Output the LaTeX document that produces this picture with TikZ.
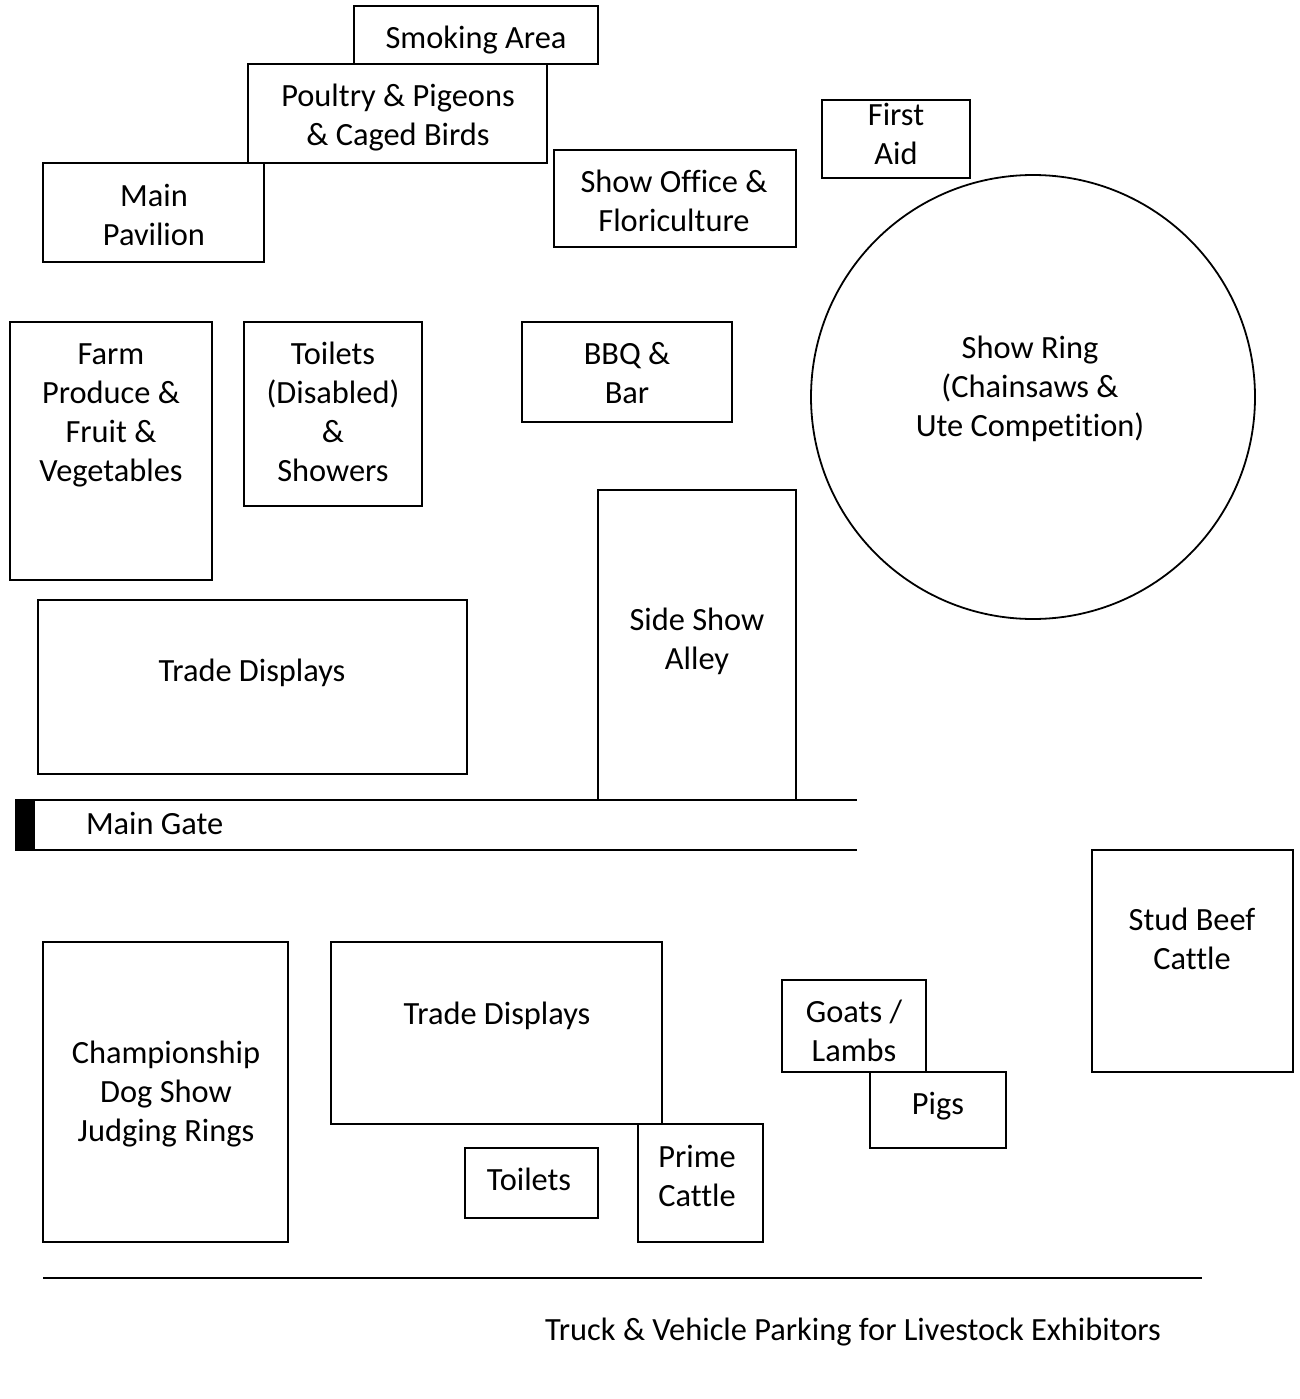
\documentclass[tikz,border=0pt]{standalone}
\usepackage{fontspec}
\setmainfont{Carlito}[Ligatures=NoCommon]
\begin{document}
\begin{tikzpicture}[x=1pt,y=-1pt,
  every node/.style={outer sep=0pt},
  box/.style={draw=black,line width=1.8pt,inner sep=0pt,anchor=north west},
  lbl/.style={align=center,inner sep=0pt,font=\fontsize{32.4}{39}\selectfont},
  edge/.style={line width=1.8pt}]
\useasboundingbox (0,0) rectangle (1300,1399);
% boxes
\node[box,minimum width=244pt,minimum height=58pt] (smokebox) at (354,6) {};
\node[box,minimum width=299pt,minimum height=99pt] (poultrybox) at (248,64) {};
\node[box,minimum width=221pt,minimum height=99pt] (pavbox) at (43,163) {};
\node[box,minimum width=242pt,minimum height=97pt] (officebox) at (554,150) {};
\node[box,minimum width=148pt,minimum height=78pt] (aidbox) at (822,100) {};
\node[draw=black,line width=1.8pt,circle,minimum size=444pt,inner sep=0pt] (ring) at (1033,397) {};
\node[box,minimum width=202pt,minimum height=258pt] (farmbox) at (10,322) {};
\node[box,minimum width=178pt,minimum height=184pt] (toildisbox) at (244,322) {};
\node[box,minimum width=210pt,minimum height=100pt] (bbqbox) at (522,322) {};
\node[box,minimum width=198pt,minimum height=310pt] (sidebox) at (598,490) {};
\node[box,minimum width=429pt,minimum height=174pt] (trade1box) at (38,600) {};
\node[box,minimum width=201pt,minimum height=222pt] (studbox) at (1092,850) {};
\node[box,minimum width=245pt,minimum height=300pt] (dogbox) at (43,942) {};
\node[box,minimum width=331pt,minimum height=182pt] (trade2box) at (331,942) {};
\node[box,minimum width=144pt,minimum height=92pt] (goatbox) at (782,980) {};
\node[box,minimum width=136pt,minimum height=76pt] (pigbox) at (870,1072) {};
\node[box,minimum width=133pt,minimum height=70pt] (toilbox) at (465,1148) {};
\node[box,minimum width=125pt,minimum height=118pt] (primebox) at (638,1124) {};
% main gate
\coordinate (gateTL) at (15,800);
\coordinate (gateTR) at (857,800);
\coordinate (gateBL) at (15,850);
\coordinate (gateBR) at (857,850);
\draw[edge] (gateTL) -- (gateTR);
\draw[edge] (gateBL) -- (gateBR);
\node[fill=black,minimum width=20pt,minimum height=52pt,inner sep=0pt,anchor=north west] (gatepost) at (15,799) {};
% parking line
\coordinate (parkL) at (43,1278);
\coordinate (parkR) at (1202,1278);
\draw[edge] (parkL) -- (parkR);
% labels
\node[lbl] (smoke) at (476,41) {\strut Smoking Area};
\node[lbl] (poultry) at (398,118.5) {\strut Poultry \& Pigeons\\\strut \& Caged Birds};
\node[lbl] (pav) at (154,218.5) {\strut Main\\\strut Pavilion};
\node[lbl] (office) at (674,204.5) {\strut Show Office \&\\\strut Floriculture};
\node[lbl] (aid) at (896,137.5) {\strut First\\\strut Aid};
\node[lbl] (ringlbl) at (1030,390) {\strut Show Ring\\\strut (Chainsaws \&\\\strut Ute Competition)};
\node[lbl] (farm) at (111,415.5) {\strut Farm\\\strut Produce \&\\\strut Fruit \&\\\strut Vegetables};
\node[lbl] (toildis) at (333,415.5) {\strut Toilets\\\strut (Disabled)\\\strut \&\\\strut Showers};
\node[lbl] (bbq) at (627,376.5) {\strut BBQ \&\\\strut Bar};
\node[lbl] (side) at (697,642.5) {\strut Side Show\\\strut Alley};
\node[lbl] (trade1) at (252,674) {\strut Trade Displays};
\node[lbl,anchor=west] (gate) at (86,827) {\strut Main Gate};
\node[lbl] (stud) at (1192,942.5) {\strut Stud Beef\\\strut Cattle};
\node[lbl] (dog) at (166,1095) {\strut Championship\\\strut Dog Show\\\strut Judging Rings};
\node[lbl] (trade2) at (497,1017) {\strut Trade Displays};
\node[lbl] (goat) at (854,1034.5) {\strut Goats /\\\strut Lambs};
\node[lbl] (pig) at (938,1107) {\strut Pigs};
\node[lbl] (toil) at (529,1183) {\strut Toilets};
\node[lbl] (prime) at (697,1179.5) {\strut Prime\\\strut Cattle};
\node[lbl] (park) at (853,1333) {\strut Truck \& Vehicle Parking for Livestock Exhibitors};
\end{tikzpicture}
\end{document}
